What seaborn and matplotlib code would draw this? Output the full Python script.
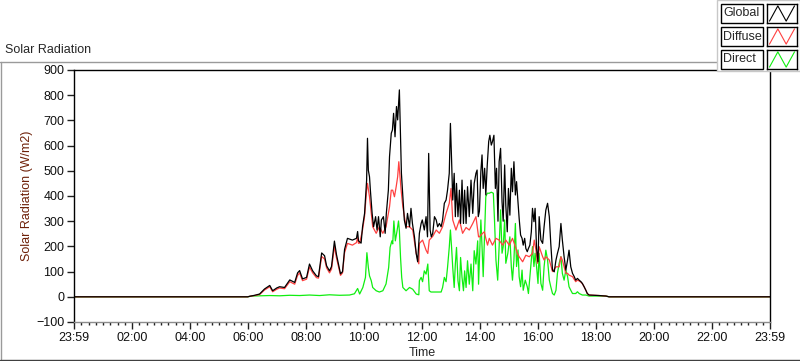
import matplotlib
matplotlib.use("Agg")
from matplotlib import pyplot as plt
from matplotlib.patches import Rectangle
from matplotlib.lines import Line2D
from matplotlib.ticker import MultipleLocator
import pandas as pd
import seaborn as sns

# data (time in hours after 23:59, W/m2)
global_t = [0, 5.99, 6.06, 6.23, 6.40, 6.57, 6.75, 6.85, 6.99, 7.09, 7.26, 7.44, 7.61, 7.71,
            7.78, 7.88, 8.02, 8.12, 8.23, 8.36, 8.43, 8.54, 8.64, 8.71, 8.81, 8.88, 8.98, 9.05, 9.12, 9.19, 9.26, 9.33, 9.43, 9.60, 9.74, 9.78, 9.81,
            9.90, 9.95, 10.02, 10.09, 10.12, 10.15, 10.19, 10.22, 10.28, 10.33, 10.40, 10.45, 10.50, 10.56, 10.60, 10.67, 10.73, 10.77, 10.84, 10.88,
            10.94, 10.98, 11.02, 11.07, 11.12, 11.16, 11.22, 11.26, 11.29, 11.34, 11.39, 11.45, 11.50, 11.57, 11.62, 11.67, 11.74, 11.80, 11.85,
            11.91, 11.97, 12.01, 12.08, 12.14, 12.19, 12.23, 12.28, 12.32, 12.37, 12.43, 12.49, 12.54, 12.60, 12.66, 12.71, 12.77, 12.83, 12.88, 12.94,
            12.98, 13.02, 13.06, 13.11, 13.15, 13.19, 13.24, 13.29, 13.33, 13.38, 13.43, 13.47, 13.52, 13.57, 13.63, 13.69, 13.75, 13.80, 13.86, 13.90, 13.94,
            13.98, 14.03, 14.07, 14.11, 14.16, 14.20, 14.25, 14.30, 14.34, 14.39, 14.43, 14.48, 14.53, 14.57, 14.62, 14.66, 14.71, 14.76, 14.80, 14.85,
            14.89, 14.94, 14.98, 15.03, 15.08, 15.12, 15.17, 15.22, 15.26, 15.31, 15.35, 15.40, 15.45, 15.49, 15.54, 15.58, 15.63, 15.67, 15.72, 15.77,
            15.81, 15.86, 15.90, 15.95, 16.00,
            16.04, 16.10, 16.16, 16.21, 16.27, 16.33, 16.39, 16.44, 16.50, 16.56, 16.62, 16.67, 16.73, 16.79, 16.84, 16.90, 16.96, 17.02, 17.07, 17.13,
            17.19, 17.25, 17.30, 17.36, 17.42, 17.48, 17.53, 17.59, 17.65, 17.70, 17.76, 18.11, 18.34, 18.45, 24]
global_v = [0, 0, 2, 6, 11, 31, 45, 24, 35, 40, 37, 67, 57, 95,
            104, 71, 77, 130, 103, 83, 80, 174, 163, 123, 103, 120, 221, 168, 130, 91, 100, 188, 232, 225, 232, 259, 222,
            213, 278, 331, 462, 629, 502, 476, 423, 331, 278, 318, 265, 318, 238, 305, 318, 252, 331, 423, 556,
            649, 662, 728, 635, 755, 702, 821, 622, 490, 397, 305, 272, 331, 278, 351, 291, 238, 172, 139,
            252, 291, 305, 265, 318, 238, 569, 265, 238, 252, 318, 305, 278, 291, 278, 305, 371, 384, 423, 490,
            688, 543, 384, 490, 318, 450, 318, 423, 291, 463, 291, 423, 291, 437, 318, 463, 331, 450, 490, 503, 318,
            340, 497, 563, 430, 510, 404, 523, 616, 641, 602, 616, 641, 430, 510, 300, 536, 589, 377, 300, 523,
            363, 258, 430, 324, 510, 417, 536, 404, 457, 377, 311, 245, 232, 205, 232, 192, 179, 192, 205, 258,
            351, 298, 351, 192, 139,
            318, 225, 212, 278, 344, 371, 318, 212, 106, 99, 146, 172, 199, 291, 225, 159, 106, 146, 185, 119,
            93, 80, 66, 73, 66, 60, 53, 40, 26, 13, 7, 5, 3, 0, 0]

diffuse_t = [0, 5.99, 6.06, 6.23, 6.40, 6.57, 6.75, 6.85, 6.99, 7.09, 7.26, 7.44, 7.61, 7.71,
             7.78, 7.88, 8.02, 8.12, 8.23, 8.36, 8.43, 8.54, 8.64, 8.71, 8.81, 8.88, 8.98, 9.05, 9.12, 9.19, 9.26, 9.33, 9.43, 9.60, 9.74, 9.78, 9.81,
             9.85, 9.95, 10.02, 10.09, 10.12, 10.19, 10.25, 10.30, 10.42, 10.53, 10.65, 10.76, 10.88, 10.94, 10.99, 11.05, 11.11, 11.16, 11.20, 11.25,
             11.28, 11.34, 11.45, 11.57, 11.68, 11.80, 11.89,
             11.91, 12.02, 12.14, 12.20, 12.25, 12.37, 12.49, 12.60, 12.71, 12.83, 12.94, 13.00, 13.06, 13.17, 13.29, 13.40, 13.52, 13.63, 13.75, 13.86, 13.95,
             13.98, 14.09, 14.15, 14.20, 14.26, 14.32, 14.43, 14.55, 14.66, 14.78, 14.89, 15.01, 15.12, 15.24, 15.29, 15.35, 15.47, 15.58, 15.70, 15.81,
             15.87, 15.93, 15.98, 16.02,
             16.04, 16.16, 16.21, 16.27, 16.39, 16.50, 16.62, 16.73, 16.79, 16.84, 16.96, 17.02, 17.07, 17.19, 17.30, 17.36, 17.42, 17.48, 17.53, 17.59,
             17.65, 17.70, 17.76, 18.11, 18.34, 18.45, 24]
diffuse_v = [0, 0, 2, 5, 9, 27, 40, 20, 30, 35, 32, 60, 50, 85,
             95, 64, 70, 118, 95, 76, 74, 160, 150, 115, 95, 110, 200, 155, 120, 85, 95, 175, 212, 205, 215, 235, 212,
             213, 265, 320, 423, 450, 397, 331, 278, 252, 278, 252, 278, 357, 423, 423, 397, 437, 476, 536, 463,
             423, 357, 278, 278, 265, 172, 131,
             212, 225, 185, 172, 225, 240, 265, 252, 278, 331, 371, 430, 305, 265, 305, 252, 275, 265, 291, 318, 238,
             238, 252, 258, 232, 205, 232, 205, 232, 225, 205, 225, 205, 232, 192, 172, 159, 139, 165, 159, 172,
             225, 185, 133, 165,
             199, 159, 146, 159, 146, 100, 119, 119, 159, 146, 93, 93, 86, 80, 60, 66, 63, 58, 52, 40,
             26, 13, 7, 5, 3, 0, 0]

direct_t = [0, 5.99, 6.13, 6.40, 6.75, 7.09, 7.44, 7.78, 8.12, 8.47, 8.81, 9.16, 9.50, 9.67, 9.78, 9.85,
            9.96, 10.05, 10.10, 10.15, 10.19, 10.25, 10.30, 10.42, 10.53, 10.65, 10.76, 10.85, 10.90, 10.96, 10.99, 11.03, 11.08, 11.14,
            11.19, 11.22, 11.26, 11.30, 11.34, 11.45, 11.57, 11.68, 11.80, 11.89,
            11.91, 11.97, 12.02, 12.08, 12.14, 12.20, 12.25, 12.31, 12.49, 12.66, 12.71, 12.77, 12.83, 12.88, 12.94, 12.98, 13.02, 13.06,
            13.11, 13.15, 13.19, 13.24, 13.29, 13.33, 13.38, 13.43, 13.47, 13.52, 13.57, 13.63, 13.69, 13.75, 13.80, 13.86, 13.92, 13.95,
            13.98, 14.03, 14.07, 14.11, 14.16, 14.20, 14.25, 14.32, 14.39, 14.46, 14.50, 14.55, 14.61, 14.66, 14.71, 14.76, 14.80, 14.85,
            14.89, 14.96, 15.03, 15.08, 15.12, 15.17, 15.22, 15.26, 15.31, 15.35, 15.40, 15.45, 15.49, 15.56, 15.63, 15.67, 15.72, 15.77,
            15.81, 15.86, 15.90, 15.95, 16.00, 16.02,
            16.04, 16.10, 16.16, 16.21, 16.27, 16.33, 16.39, 16.44, 16.50, 16.56, 16.62, 16.67, 16.73, 16.79, 16.84, 16.90, 16.96, 17.02,
            17.07, 17.13, 17.19, 17.30, 17.36, 17.42, 17.53, 17.65, 17.76, 18.34, 18.45, 24]
direct_v = [0, 0, 3, 4, 5, 4, 6, 5, 7, 5, 8, 6, 7, 12, 33, 11,
            37, 77, 175, 116, 83, 64, 37, 24, 19, 24, 51, 116, 196, 222, 210, 301, 222, 262,
            301, 262, 156, 77, 37, 24, 37, 30, 11, 8,
            64, 77, 60, 103, 90, 130, 24, 19, 19, 19, 37, 77, 60, 116, 196, 265, 196, 116,
            37, 130, 196, 64, 24, 156, 77, 24, 103, 37, 143, 50, 130, 24, 183, 130, 222, 50,
            146, 305, 199, 80, 252, 397, 411, 411, 415, 411, 305, 146, 66, 199, 345, 173, 199, 305,
            133, 173, 238, 120, 66, 146, 291, 120, 186, 80, 40, 106, 26, 66, 40, 13, 80, 146,
            199, 120, 173, 120, 53, 120,
            172, 53, 26, 119, 185, 146, 66, 40, 13, 7, 26, 93, 133, 159, 93, 66, 106, 80,
            40, 26, 13, 13, 20, 13, 7, 7, 3, 3, 0, 0]

series = ["Global", "Diffuse", "Direct"]
colors = {"Global": "#000000", "Diffuse": "#ff4040", "Direct": "#10ee10"}
tick_labels = ["23:59", "02:00", "04:00", "06:00", "08:00", "10:00", "12:00",
               "14:00", "16:00", "18:00", "20:00", "22:00", "23:59"]

df = pd.concat([
    pd.DataFrame({"Hour": global_t, "W/m2": global_v, "Series": "Global"}),
    pd.DataFrame({"Hour": diffuse_t, "W/m2": diffuse_v, "Series": "Diffuse"}),
    pd.DataFrame({"Hour": direct_t, "W/m2": direct_v, "Series": "Direct"}),
], ignore_index=True)

sns.set_style("white")
plt.rcParams["font.family"] = ["Liberation Sans", "DejaVu Sans"]
fs = 9

W, H = 800, 361
fig = plt.figure(figsize=(W / 100, H / 100), dpi=100)
ax = fig.add_axes([74 / W, 1 - 322 / H, (770 - 74) / W, (322 - 70) / H])

sns.lineplot(data=df, x="Hour", y="W/m2", hue="Series",
             hue_order=["Direct", "Diffuse", "Global"], palette=colors,
             estimator=None, sort=False, linewidth=0.9, legend=False, ax=ax)

ax.set_xlim(0, 24)
ax.set_ylim(-100, 900)
ax.set_xticks(range(0, 25, 2))
ax.set_xticklabels(tick_labels)
ax.xaxis.set_minor_locator(MultipleLocator(0.25))
ax.set_yticks(range(-100, 901, 100))
ax.tick_params(axis="both", which="major", direction="out", length=5, width=1,
               color="#202020", labelsize=fs, labelcolor="#101010", pad=2, bottom=True, left=True)
ax.tick_params(axis="x", which="minor", direction="out", length=2.5, width=1,
               color="#202020", bottom=True)
ax.set_xlabel("Time", fontsize=fs, labelpad=2)
ax.set_ylabel("Solar Radiation (W/m2)", fontsize=fs, color="#6e2008", labelpad=2)
for s in ["top", "left", "right"]:
    ax.spines[s].set_color("black")
    ax.spines[s].set_linewidth(1)
ax.spines["bottom"].set_color("#8c8c8c")
ax.spines["bottom"].set_linewidth(1)

# outer frame and title
grey = "#9a9a9a"
fig.add_artist(Line2D([0, 717 / W], [1 - 62 / H] * 2, color=grey, lw=1))
fig.add_artist(Line2D([1 / W, 1 / W], [1 - 62 / H, 1 - 359 / H], color=grey, lw=1))
fig.add_artist(Line2D([0, 1], [1 - 359.5 / H] * 2, color="#404040", lw=1))
fig.text(5 / W, 1 - 50 / H, "Solar Radiation", fontsize=fs, va="center", ha="left")

# legend panel (LabVIEW plot legend look)
fig.add_artist(Rectangle((717 / W, 1 - 71 / H), 83 / W, 71 / H, transform=fig.transFigure,
                         facecolor="white", edgecolor="#c8c8c8", lw=1, zorder=5))
row_tops = [4, 27, 50]
for name, top in zip(series, row_tops):
    fig.add_artist(Rectangle((721 / W, 1 - (top + 19) / H), 42 / W, 19 / H, transform=fig.transFigure,
                             facecolor="white", edgecolor="black", lw=1, zorder=6))
    fig.text(723.5 / W, 1 - (top + 9.5) / H, name, fontsize=fs, va="center", ha="left", zorder=7)
    lax = fig.add_axes([767 / W, 1 - (top + 19) / H, 30 / W, 19 / H], zorder=8)
    lax.plot([0, 1, 2, 3], [0.1, 0.9, 0.1, 0.9], color=colors[name], lw=0.8)
    lax.set_xlim(-0.3, 3.3)
    lax.set_ylim(0, 1)
    lax.set_xticks([])
    lax.set_yticks([])
    for sp in lax.spines.values():
        sp.set_color("black")
        sp.set_linewidth(1)

fig.savefig("out.png", dpi=100)
